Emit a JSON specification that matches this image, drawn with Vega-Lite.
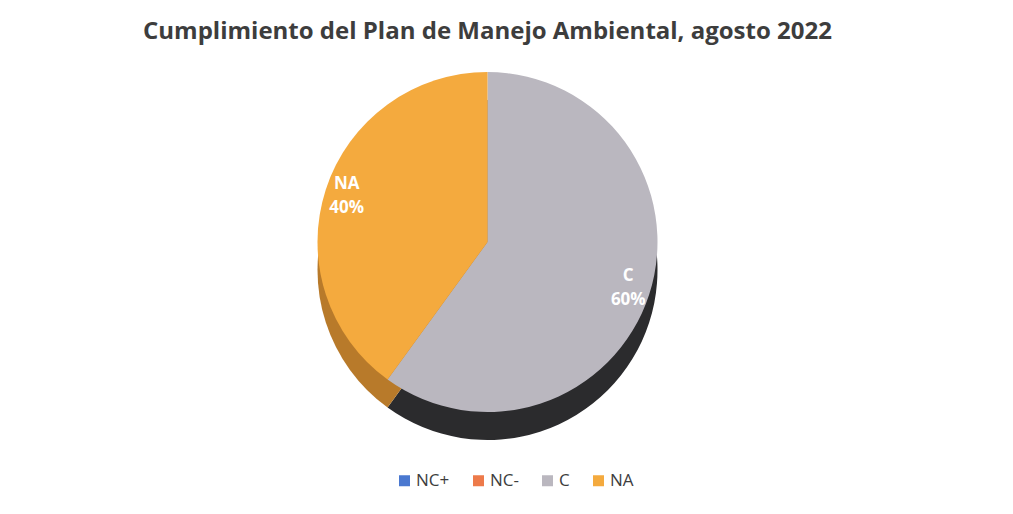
{
  "$schema": "https://vega.github.io/schema/vega-lite/v6.json",
  "width": 1013,
  "height": 514,
  "autosize": {"type": "fit", "contains": "padding"},
  "padding": {"top": 20, "left": 0, "right": 38, "bottom": 14},
  "background": "white",
  "title": {
    "text": "Cumplimiento del Plan de Manejo Ambiental, agosto 2022",
    "font": "Open Sans",
    "fontSize": 24,
    "fontWeight": "bold",
    "color": "#3d3d3d",
    "anchor": "middle",
    "offset": 14
  },
  "config": {"view": {"stroke": null}},
  "data": {
    "values": [
      {"cat": "NC+", "value": 0},
      {"cat": "NC-", "value": 0},
      {"cat": "C", "value": 0.6},
      {"cat": "NA", "value": 0.4}
    ]
  },
  "encoding": {
    "theta": {"field": "value", "type": "quantitative", "stack": true}
  },
  "layer": [
    {
      "mark": {"type": "arc", "outerRadius": 170, "yOffset": -9},
      "encoding": {
        "order": {"field": "cat", "sort": "ascending"},
        "color": {
          "field": "cat",
          "type": "nominal",
          "scale": {"domain": ["NC+", "NC-", "C", "NA"], "range": ["#2a4a88", "#9a4a1a", "#2b2b2d", "#b87a2a"]},
          "legend": null
        }
      }
    },
    {
      "mark": {"type": "arc", "outerRadius": 170, "yOffset": -37},
      "encoding": {
        "order": {"field": "cat", "sort": "ascending"},
        "color": {
          "field": "cat",
          "type": "nominal",
          "scale": {"domain": ["NC+", "NC-", "C", "NA"], "range": ["#4a78d0", "#ed7a4a", "#bab7bf", "#f4aa3e"]},
          "legend": {
            "title": null,
            "orient": "none",
            "legendX": 396,
            "legendY": 414,
            "direction": "horizontal",
            "symbolType": "square",
            "symbolSize": 121,
            "labelFont": "Open Sans",
            "labelFontSize": 17,
            "labelColor": "#3d3d3d",
            "columnPadding": 20,
            "labelOffset": 3,
            "symbolStrokeWidth": 0
          }
        }
      }
    },
    {
      "transform": [{"filter": "datum.value > 0"}],
      "mark": {"type": "text", "radius": 148, "dy": -12, "yOffset": -37, "font": "Open Sans", "fontSize": 17, "fontWeight": "bold", "color": "white"},
      "encoding": {
        "order": {"field": "cat", "sort": "ascending"},
        "text": {"field": "cat", "type": "nominal"}
      }
    },
    {
      "transform": [{"filter": "datum.value > 0"}],
      "mark": {"type": "text", "radius": 148, "dy": 12, "yOffset": -37, "font": "Open Sans", "fontSize": 17, "fontWeight": "bold", "color": "white"},
      "encoding": {
        "order": {"field": "cat", "sort": "ascending"},
        "text": {"field": "value", "type": "quantitative", "format": ".0%"}
      }
    }
  ],
  "resolve": {"scale": {"color": "independent"}}
}
